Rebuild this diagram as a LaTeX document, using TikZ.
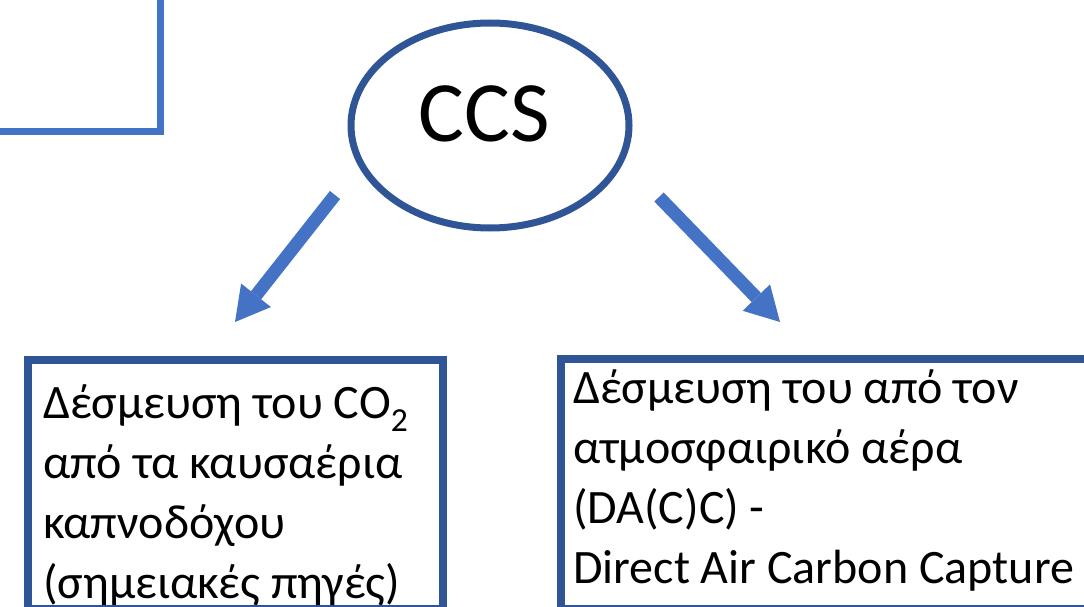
\documentclass[tikz,border=0pt]{standalone}
\usepackage{fontspec}
\setmainfont{Carlito}
\usetikzlibrary{shapes.geometric,arrows.meta}
\definecolor{lblue}{HTML}{4472C4}
\definecolor{dblue}{HTML}{2F5597}
\begin{document}
\begin{tikzpicture}[x=1pt,y=-1pt,
  boxframe/.style={draw=dblue,line width=8pt,rectangle,inner sep=0pt,anchor=north west},
  txtline/.style={font=\fontsize{48}{60}\selectfont,anchor=base west,inner sep=0pt},
  blockarrow/.style={draw=lblue,fill=lblue,line width=13pt,-{Triangle[length=34pt,width=38pt,line width=0pt]}}]
\useasboundingbox (0,0) rectangle (1084,607);
\clip (0,0) rectangle (1084,607);
% partial box top-left
\node[draw=lblue,line width=7pt,rectangle,inner sep=0pt,minimum width=400pt,minimum height=300pt,anchor=south east] (tl) at (164,135) {};
% ellipse
\node[ellipse,draw=dblue,line width=7pt,minimum width=278pt,minimum height=205pt,inner sep=0pt] (ccs) at (490,125.5) {};
\node[font=\fontsize{86}{100}\selectfont,anchor=base,inner sep=0pt] (ccstxt) at (484,142) {CCS};
% arrows
\coordinate (aLs) at (335,195);
\coordinate (aLe) at (235,322);
\coordinate (aRs) at (659,197);
\coordinate (aRe) at (780,322);
\draw[blockarrow] (aLs) -- (aLe);
\draw[blockarrow] (aRs) -- (aRe);
% texts
\node[txtline] (L1) at (43,418) {Δέσμευση του CO\textsubscript{2}};
\node[txtline] (L2) at (43,478) {από τα καυσαέρια};
\node[txtline] (L3) at (43,538) {καπνοδόχου};
\node[txtline] (L4) at (43,598) {(σημειακές πηγές)};
\node[txtline] (R1) at (573,403) {Δέσμευση του από τον};
\node[txtline] (R2) at (573,463) {ατμοσφαιρικό αέρα};
\node[txtline] (R3) at (573,523) {(DA(C)C) -};
\node[txtline] (R4) at (573,583) {Direct Air Carbon Capture};
% boxes
\node[boxframe,minimum width=414.5pt,minimum height=249pt] (boxL) at (24,356) {};
\node[boxframe,minimum width=600pt,minimum height=250pt] (boxR) at (557,355) {};
\end{tikzpicture}
\end{document}
